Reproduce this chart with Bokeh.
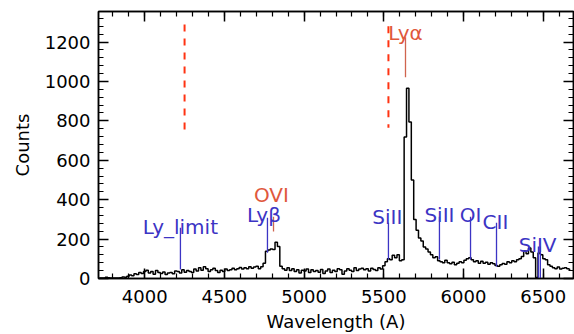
import numpy as np
from bokeh.plotting import figure
from bokeh.models import (ColumnDataSource, LinearAxis, SingleIntervalTicker,
                          CustomJSTickFormatter)
from bokeh.core.properties import value
from bokeh.embed import file_html
from bokeh.resources import INLINE

# Spectrum: 15 A bins, centres 3715 ... 6670 A
wavelength = np.arange(3715, 6681, 15)
counts = [
    2, 3, 2, 6, 4, 2, 3, 2, 3, 4,
    8, 6, 12, 18, 14, 24, 20, 30, 26, 35,
    42, 28, 36, 22, 40, 30, 25, 33, 20, 28,
    30, 24, 38, 35, 28, 45, 32, 40, 36, 30,
    48, 38, 55, 42, 60, 50, 36, 44, 52, 40,
    30, 42, 35, 48, 40, 45, 52, 44, 50, 56,
    48, 55, 50, 60, 52, 58, 62, 50, 60, 78,
    138, 145, 150, 147, 184, 163, 62, 50, 42, 55,
    40, 50, 35, 45, 28, 42, 38, 48, 30, 44,
    36, 40, 32, 46, 26, 38, 48, 30, 42, 35,
    50, 45, 22, 38, 50, 42, 35, 55, 40, 48,
    52, 44, 50, 38, 52, 46, 40, 55, 48, 65,
    85, 100, 95, 118, 105, 120, 90, 95, 718, 966,
    794, 500, 300, 245, 205, 190, 160, 150, 135, 120,
    105, 110, 90, 85, 80, 92, 80, 75, 82, 70,
    78, 85, 80, 92, 100, 105, 95, 85, 90, 78,
    88, 78, 82, 72, 80, 75, 66, 62, 70, 76,
    72, 85, 80, 90, 85, 95, 100, 112, 140, 125,
    155, 135, 105, 5, 130, 120, 100, 95, 70, 62,
    55, 50, 58, 48, 52, 55, 50, 46,
]

# Identified lines (blue) and their markers
blue_labels = ["Ly_limit", "Lyβ", "SiII", "SiII", "OI", "CII", "SiIV"]
blue_label_wave = [4224, 4748, 5522, 5849, 6044, 6200, 6465]
blue_label_counts = [263, 324, 313, 324, 324, 288, 172]
blue_line_wave = [4224, 4770, 5529, 5849, 6044, 6207, 6470, 6482]
blue_line_top = [258, 308, 283, 313, 313, 283, 162, 162]
blue_line_bottom = [46, 131, 96, 96, 96, 61, 0, 0]

# Emission lines (red)
red_labels = ["OVI", "Lyα"]
red_label_wave = [4795, 5636]
red_label_counts = [425, 1244]
red_line_wave = [4808, 5636]
red_line_top = [313, 1224]
red_line_bottom = [238, 1021]

# Dashed markers
dash_wave = [4250, 5529]
dash_top = [1289, 1280]
dash_bottom = [738, 765]

FONT = "DejaVu Sans"
BLUE = "#3c34c4"
RED_TEXT = "#e0583c"
RED_LINE = "#d0644e"

p = figure(width=574, height=334, x_range=(3710, 6690), y_range=(0, 1355),
           output_backend="svg", toolbar_location=None,
           min_border_left=98, min_border_right=1, min_border_top=11,
           min_border_bottom=55)
p.xgrid.visible = False
p.ygrid.visible = False
p.outline_line_color = "black"
p.outline_line_width = 1.5
p.background_fill_color = "white"
p.border_fill_color = "white"

xt = SingleIntervalTicker(interval=500, num_minor_ticks=5)
yt = SingleIntervalTicker(interval=200, num_minor_ticks=5)
blank = CustomJSTickFormatter(code="return ''")


def style_axis(ax, show_labels=True):
    ax.axis_line_color = "black"
    ax.axis_line_width = 1.5
    ax.major_tick_in = 10
    ax.major_tick_out = 0
    ax.minor_tick_in = 5
    ax.minor_tick_out = 0
    ax.major_tick_line_color = "black"
    ax.major_tick_line_width = 1.5
    ax.minor_tick_line_color = "black"
    ax.minor_tick_line_width = 1.2
    ax.major_label_text_font = FONT
    ax.major_label_text_color = "black"
    ax.axis_label_text_font = FONT
    ax.axis_label_text_font_style = "normal"
    ax.axis_label_text_color = "black"
    ax.major_label_text_font_size = "18px"
    ax.axis_label_text_font_size = "18px"
    if not show_labels:
        ax.formatter = blank
        ax.major_label_standoff = 0


xa = p.xaxis[0]
xa.ticker = xt
style_axis(xa)
xa.axis_label = "Wavelength (A)"
xa.major_label_standoff = 11
xa.axis_label_standoff = 5

ya = p.yaxis[0]
ya.ticker = yt
style_axis(ya)
ya.axis_label = "Counts"
ya.major_label_standoff = 8
ya.axis_label_standoff = 9

top = LinearAxis(ticker=xt)
style_axis(top, show_labels=False)
p.add_layout(top, "above")
right = LinearAxis(ticker=yt)
style_axis(right, show_labels=False)
p.add_layout(right, "right")

# Spectrum
p.step(x=wavelength, y=counts, mode="center", line_color="black", line_width=1.5)

# Dashed markers (drawn from the top so the pattern starts with a dash)
p.segment(x0=dash_wave, y0=dash_top, x1=dash_wave, y1=dash_bottom,
          line_color="#ff3312", line_width=2, line_dash="7 7")

# Line markers
p.segment(x0=blue_line_wave, y0=blue_line_bottom, x1=blue_line_wave, y1=blue_line_top,
          line_color=BLUE, line_width=1.3)
p.segment(x0=red_line_wave, y0=red_line_bottom, x1=red_line_wave, y1=red_line_top,
          line_color=RED_LINE, line_width=1.3)

blue_src = ColumnDataSource(dict(x=blue_label_wave, y=blue_label_counts, t=blue_labels))
p.text(x="x", y="y", text="t", source=blue_src, text_font=value(FONT),
       text_font_size="20px", text_color=BLUE, text_align="center",
       text_baseline="alphabetic")
red_src = ColumnDataSource(dict(x=red_label_wave, y=red_label_counts, t=red_labels))
p.text(x="x", y="y", text="t", source=red_src, text_font=value(FONT),
       text_font_size="20px", text_color=RED_TEXT, text_align="center",
       text_baseline="alphabetic")

open("out.html", "w").write(file_html(p, INLINE))
